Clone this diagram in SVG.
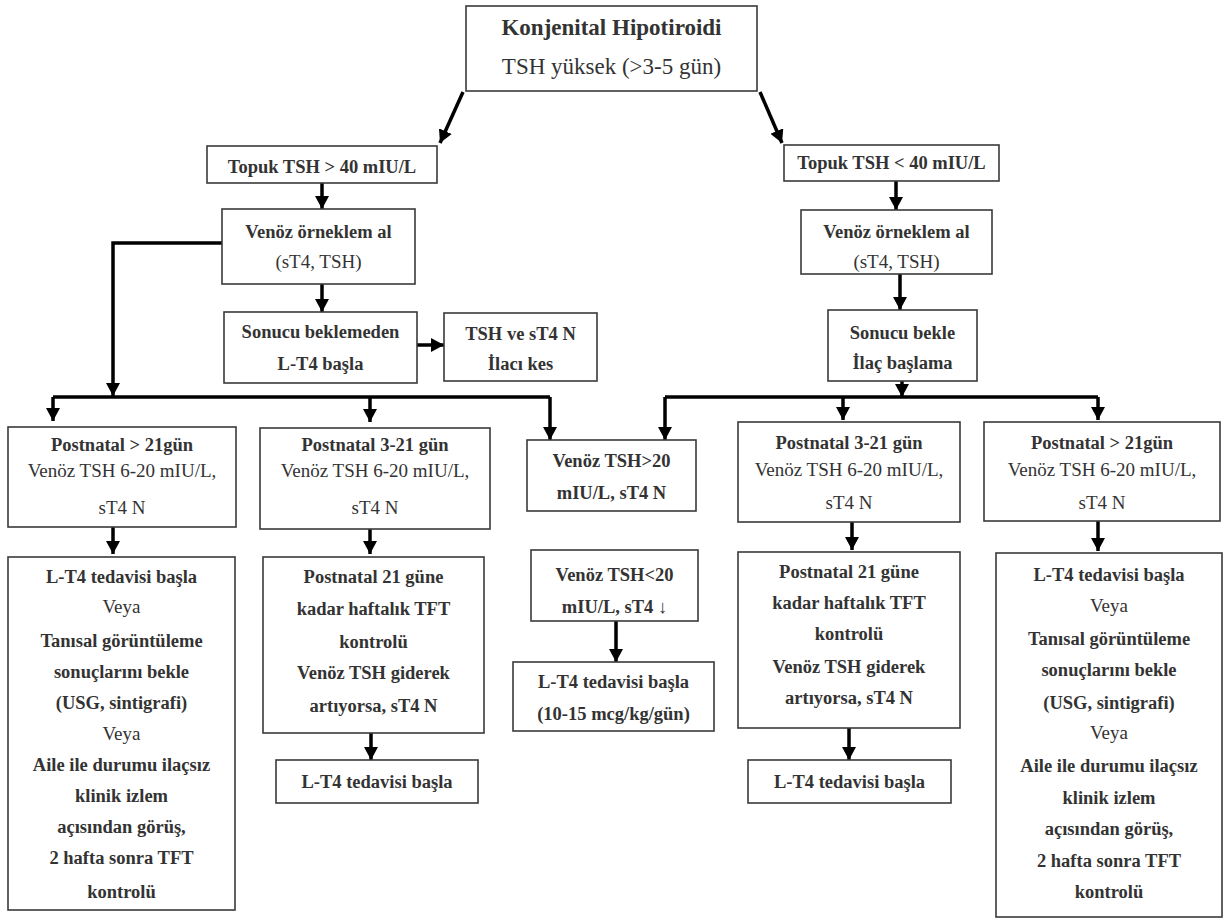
<svg xmlns="http://www.w3.org/2000/svg" width="1227" height="920" viewBox="0 0 1227 920">
<defs>
<marker id="ah" markerUnits="userSpaceOnUse" markerWidth="14" markerHeight="14" refX="13" refY="7" orient="auto" viewBox="0 0 14 14">
<path d="M0,0 L13,7 L0,14 z" fill="#000"/>
</marker>
<style>
.box{fill:#fff;stroke:#3a3a3a;stroke-width:1.6}
.b{font-family:"Liberation Serif","Times New Roman",serif;font-weight:bold;font-size:18.5px;fill:#333;text-anchor:middle}
.r{font-family:"Liberation Serif","Times New Roman",serif;font-size:19px;fill:#333;text-anchor:middle}
.tb{font-family:"Liberation Serif","Times New Roman",serif;font-weight:bold;font-size:23px;fill:#333;text-anchor:middle}
.tr{font-family:"Liberation Serif","Times New Roman",serif;font-size:23px;fill:#333;text-anchor:middle}
.c{fill:none;stroke:#000;stroke-width:3.5}
.ca{fill:none;stroke:#000;stroke-width:3.5;marker-end:url(#ah)}
</style>
</defs>
<rect width="1227" height="920" fill="#fff"/>

<g id="connectors">
<path class="ca" d="M463,92 L440,143"/>
<path class="ca" d="M760,92 L782,143"/>
<path class="ca" d="M322,183 V209"/>
<path class="ca" d="M322,284 V312"/>
<path class="ca" d="M417,345 H444"/>
<path class="ca" d="M222,243 H113 V396"/>
<path class="c" d="M53,397 H550"/>
<path class="ca" d="M53,397 V421"/>
<path class="ca" d="M370,397 V422"/>
<path class="ca" d="M550,397 V440"/>
<path class="ca" d="M113,527 V554"/>
<path class="ca" d="M370,529 V554"/>
<path class="ca" d="M371,733 V760"/>
<path class="ca" d="M616,621 V662"/>
<path class="ca" d="M896,181 V210"/>
<path class="ca" d="M900,274 V310"/>
<path class="ca" d="M902,381 V397"/>
<path class="c" d="M665,397 H1098"/>
<path class="ca" d="M665,397 V440"/>
<path class="ca" d="M843,397 V420"/>
<path class="ca" d="M1098,397 V420"/>
<path class="ca" d="M852,522 V550"/>
<path class="ca" d="M1098,521 V551"/>
<path class="ca" d="M849,728 V760"/>
</g>

<g id="n-top">
<rect class="box" x="466" y="6" width="291" height="85"/>
<text class="tb" x="611.5" y="35">Konjenital Hipotiroidi</text>
<text class="tr" x="611.5" y="74">TSH yüksek (&gt;3-5 gün)</text>
</g>

<g id="n-topuk-high">
<rect class="box" x="207" y="146" width="230" height="37"/>
<text class="b" x="322" y="173">Topuk TSH &gt; 40 mIU/L</text>
</g>

<g id="n-venoz-left">
<rect class="box" x="222" y="209" width="193" height="75"/>
<text class="b" x="318.5" y="238">Venöz örneklem al</text>
<text class="r" x="318.5" y="268">(sT4, TSH)</text>
</g>

<g id="n-sonucu-beklemeden">
<rect class="box" x="224" y="312" width="193" height="71"/>
<text class="b" x="320.5" y="338">Sonucu beklemeden</text>
<text class="b" x="320.5" y="370">L-T4 başla</text>
</g>

<g id="n-ilaci-kes">
<rect class="box" x="444" y="313" width="153" height="68"/>
<text class="b" x="520.5" y="340">TSH ve sT4 N</text>
<text class="b" x="520.5" y="370">İlacı kes</text>
</g>

<g id="n-left-post21">
<rect class="box" x="8" y="427" width="228" height="100"/>
<text class="b" x="122" y="451">Postnatal &gt; 21gün</text>
<text class="r" x="122" y="477">Venöz TSH 6-20 mIU/L,</text>
<text class="r" x="122" y="514">sT4 N</text>
</g>

<g id="n-left-post3">
<rect class="box" x="260" y="428" width="230" height="101"/>
<text class="b" x="375" y="451">Postnatal 3-21 gün</text>
<text class="r" x="375" y="477">Venöz TSH 6-20 mIU/L,</text>
<text class="r" x="375" y="514">sT4 N</text>
</g>

<g id="n-left-big">
<rect class="box" x="8" y="557" width="227" height="353"/>
<text class="b" x="121.5" y="583">L-T4 tedavisi başla</text>
<text class="r" x="121.5" y="613">Veya</text>
<text class="b" x="121.5" y="647">Tanısal görüntüleme</text>
<text class="b" x="121.5" y="678">sonuçlarını bekle</text>
<text class="b" x="121.5" y="709">(USG, sintigrafi)</text>
<text class="r" x="121.5" y="740">Veya</text>
<text class="b" x="121.5" y="771">Aile ile durumu ilaçsız</text>
<text class="b" x="121.5" y="802">klinik izlem</text>
<text class="b" x="121.5" y="833">açısından görüş,</text>
<text class="b" x="121.5" y="864">2 hafta sonra TFT</text>
<text class="b" x="121.5" y="898">kontrolü</text>
</g>

<g id="n-left-weekly">
<rect class="box" x="263" y="557" width="221" height="176"/>
<text class="b" x="373.5" y="583">Postnatal 21 güne</text>
<text class="b" x="373.5" y="615">kadar haftalık TFT</text>
<text class="b" x="373.5" y="648">kontrolü</text>
<text class="b" x="373.5" y="679">Venöz TSH giderek</text>
<text class="b" x="373.5" y="712">artıyorsa, sT4 N</text>
</g>

<g id="n-left-lt4">
<rect class="box" x="276" y="760" width="202" height="43"/>
<text class="b" x="377" y="788">L-T4 tedavisi başla</text>
</g>

<g id="n-venoz-gt20">
<rect class="box" x="527" y="440" width="169" height="71"/>
<text class="b" x="611.5" y="467">Venöz TSH&gt;20</text>
<text class="b" x="611.5" y="499">mIU/L, sT4 N</text>
</g>

<g id="n-venoz-lt20">
<rect class="box" x="531" y="550" width="167" height="71"/>
<text class="b" x="614.5" y="581">Venöz TSH&lt;20</text>
<text class="b" x="614.5" y="613">mIU/L, sT4 ↓</text>
</g>

<g id="n-mid-lt4">
<rect class="box" x="513" y="662" width="201" height="69"/>
<text class="b" x="613.5" y="688">L-T4 tedavisi başla</text>
<text class="b" x="613.5" y="720">(10-15 mcg/kg/gün)</text>
</g>

<g id="n-topuk-low">
<rect class="box" x="784" y="145" width="215" height="36"/>
<text class="b" x="891.5" y="169">Topuk TSH &lt; 40 mIU/L</text>
</g>

<g id="n-venoz-right">
<rect class="box" x="801" y="210" width="191" height="64"/>
<text class="b" x="896.5" y="238">Venöz örneklem al</text>
<text class="r" x="896.5" y="268">(sT4, TSH)</text>
</g>

<g id="n-sonucu-bekle">
<rect class="box" x="828" y="310" width="149" height="71"/>
<text class="b" x="902.5" y="339">Sonucu bekle</text>
<text class="b" x="902.5" y="369">İlaç başlama</text>
</g>

<g id="n-right-post3">
<rect class="box" x="738" y="422" width="222" height="100"/>
<text class="b" x="849" y="449">Postnatal 3-21 gün</text>
<text class="r" x="849" y="476">Venöz TSH 6-20 mIU/L,</text>
<text class="r" x="849" y="509">sT4 N</text>
</g>

<g id="n-right-post21">
<rect class="box" x="984" y="422" width="236" height="99"/>
<text class="b" x="1102" y="449">Postnatal &gt; 21gün</text>
<text class="r" x="1102" y="476">Venöz TSH 6-20 mIU/L,</text>
<text class="r" x="1102" y="509">sT4 N</text>
</g>

<g id="n-right-weekly">
<rect class="box" x="738" y="552" width="222" height="176"/>
<text class="b" x="849" y="578">Postnatal 21 güne</text>
<text class="b" x="849" y="609">kadar haftalık TFT</text>
<text class="b" x="849" y="640">kontrolü</text>
<text class="b" x="849" y="673">Venöz TSH giderek</text>
<text class="b" x="849" y="704">artıyorsa, sT4 N</text>
</g>

<g id="n-right-lt4">
<rect class="box" x="748" y="760" width="203" height="43"/>
<text class="b" x="849.5" y="788">L-T4 tedavisi başla</text>
</g>

<g id="n-right-big">
<rect class="box" x="996" y="553" width="226" height="364"/>
<text class="b" x="1109" y="581">L-T4 tedavisi başla</text>
<text class="r" x="1109" y="612">Veya</text>
<text class="b" x="1109" y="645">Tanısal görüntüleme</text>
<text class="b" x="1109" y="676">sonuçlarını bekle</text>
<text class="b" x="1109" y="709">(USG, sintigrafi)</text>
<text class="r" x="1109" y="739">Veya</text>
<text class="b" x="1109" y="772">Aile ile durumu ilaçsız</text>
<text class="b" x="1109" y="804">klinik izlem</text>
<text class="b" x="1109" y="835">açısından görüş,</text>
<text class="b" x="1109" y="867">2 hafta sonra TFT</text>
<text class="b" x="1109" y="898">kontrolü</text>
</g>
</svg>
